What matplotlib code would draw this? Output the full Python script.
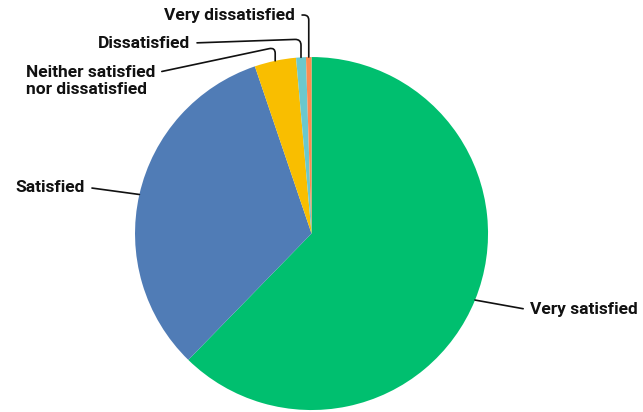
import numpy as np
import matplotlib
matplotlib.use("Agg")
import matplotlib.pyplot as plt

plt.rcParams['font.family'] = ['Roboto', 'DejaVu Sans']

# satisfaction shares (%), clockwise from 12 o'clock
labels = ["Very satisfied", "Satisfied", "Neither satisfied\nnor dissatisfied",
          "Dissatisfied", "Very dissatisfied"]
shares = [62.3, 32.5, 3.8, 0.9, 0.5]
colors = ["#00BF6F", "#507CB6", "#F9BE00", "#6BC8CD", "#FF8B4F"]

fig = plt.figure(figsize=(6.43, 4.12), dpi=100)
ax = fig.add_axes([0, 0, 1, 1])
wedges, _ = ax.pie(shares, colors=colors, startangle=90, counterclock=False,
                   radius=1.0, center=(0, 0))
ax.set_xlim(-1.765, 1.878)
ax.set_ylim(-1.011, 1.323)
ax.set_aspect('equal')
ax.axis('off')

# label text anchor (x, y, ha) and connection style per slice
text_pos = [(1.238, -0.433, 'left'), (-1.283, 0.263, 'right'), (-0.887, 0.864, 'right'),
            (-0.688, 1.079, 'right'), (-0.093, 1.238, 'right')]
conn = ["arc3,rad=0", "arc3,rad=0", "angle,angleA=12,angleB=90,rad=6",
        "angle,angleA=2,angleB=90,rad=6", "angle,angleA=0,angleB=90,rad=5"]

for w, lab, (tx, ty, ha), cs in zip(wedges, labels, text_pos, conn):
    mid = np.deg2rad((w.theta1 + w.theta2) / 2)
    px, py = np.cos(mid), np.sin(mid)
    rel = (0, 0.5) if ha == 'left' else (1, 0.5)
    if '\n' in lab:
        rel = (1, 0.75)
    ax.annotate(lab, xy=(px, py), xytext=(tx, ty), ha=ha, va='center',
                multialignment='left',
                fontsize=12.5, fontweight='bold', color='#111111',
                linespacing=1.2,
                arrowprops=dict(arrowstyle='-', color='#111111', lw=1.2,
                                connectionstyle=cs, relpos=rel,
                                shrinkA=3, shrinkB=0))

fig.savefig("out.png", dpi=100)
